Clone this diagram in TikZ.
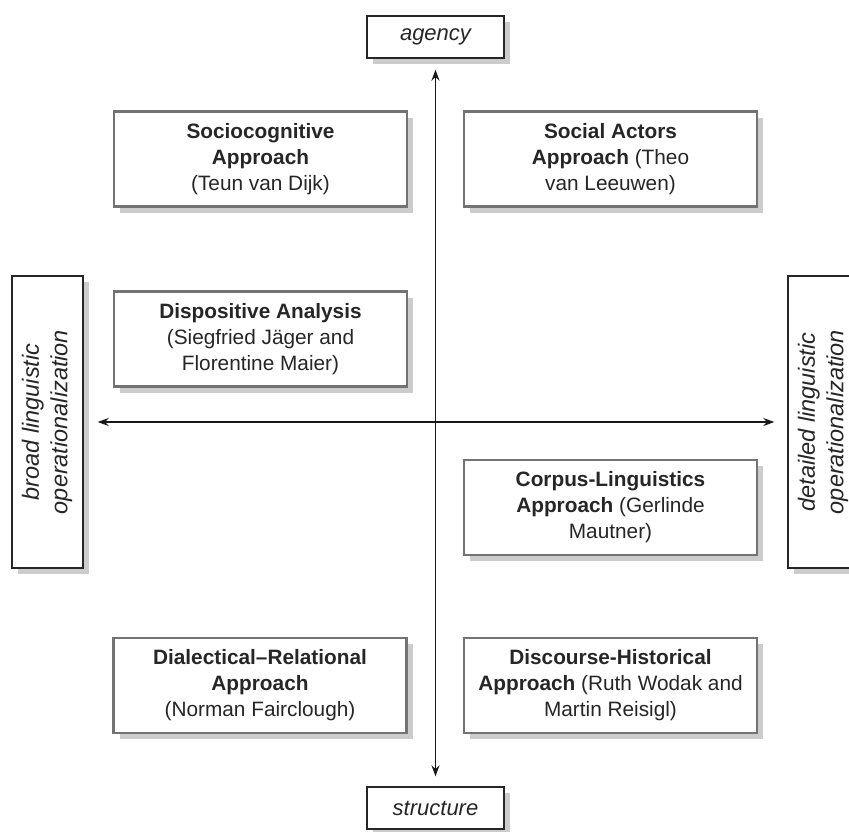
\documentclass[tikz,border=0pt]{standalone}
\usepackage{fontspec}
\setmainfont{Liberation Sans}
\usetikzlibrary{shadows,arrows.meta}
\tikzset{
  shd/.style={drop shadow={shadow xshift=6pt, shadow yshift=-6pt, fill=black!20, opacity=1}},
  cbox/.style={shd, draw=black!55, line width=2.5pt, fill=white, align=center,
    minimum width=293pt, minimum height=95pt, inner sep=0pt, text=black!85,
    font=\fontsize{20.8}{26}\selectfont},
  lbox/.style={shd, draw=black!85, line width=1.4pt, fill=white, align=center,
    inner sep=0pt, text=black!85, font=\fontsize{22}{28}\selectfont\itshape},
  axisline/.style={draw=black!90, line width=1.3pt,
    {Stealth[length=11pt,width=8pt]}-{Stealth[length=11pt,width=8pt]}}
}
\begin{document}
\begin{tikzpicture}[x=1pt,y=-1pt]
\useasboundingbox (0,0) rectangle (849,831);
\clip (0,0) rectangle (849,831);

\node[cbox] (soc) at (260.5,159) {\textbf{Sociocognitive}\\\textbf{Approach}\\(Teun van Dijk)};
\node[cbox] (sa) at (610.5,159) {\textbf{Social Actors}\\\textbf{Approach} (Theo\\van Leeuwen)};
\node[cbox] (dis) at (260.5,339) {\textbf{Dispositive Analysis}\\(Siegfried Jäger and\\Florentine Maier)};
\node[cbox] (cor) at (610.5,507.5) {\textbf{Corpus-Linguistics}\\\textbf{Approach} (Gerlinde\\Mautner)};
\node[cbox] (dia) at (260,685.5) {\textbf{Dialectical--Relational}\\\textbf{Approach}\\(Norman Fairclough)};
\node[cbox] (dh) at (610.5,685.5) {\textbf{Discourse-Historical}\\\textbf{Approach} (Ruth Wodak and\\Martin Reisigl)};

\node[lbox, minimum width=137pt, minimum height=42pt] (ag) at (435.5,37) {agency};
\node[lbox, minimum width=137pt, minimum height=42pt] (st) at (435.5,808) {structure};
\node[lbox, font=\fontsize{23.5}{28.5}\selectfont\itshape, minimum width=71pt, minimum height=292pt] (br) at (47.5,422)
  {\rotatebox{90}{\begin{tabular}{@{}c@{}}broad linguistic\\operationalization\end{tabular}}};
\node[lbox, font=\fontsize{23.5}{28.5}\selectfont\itshape, minimum width=71pt, minimum height=292pt] (de) at (823.5,422)
  {\rotatebox{90}{\begin{tabular}{@{}c@{}}detailed linguistic\\operationalization\end{tabular}}};

\draw[axisline, shorten <=11pt, shorten >=10pt] (ag) -- (st);
\draw[axisline, shorten <=14pt, shorten >=13pt] (br) -- (de);
\end{tikzpicture}
\end{document}
